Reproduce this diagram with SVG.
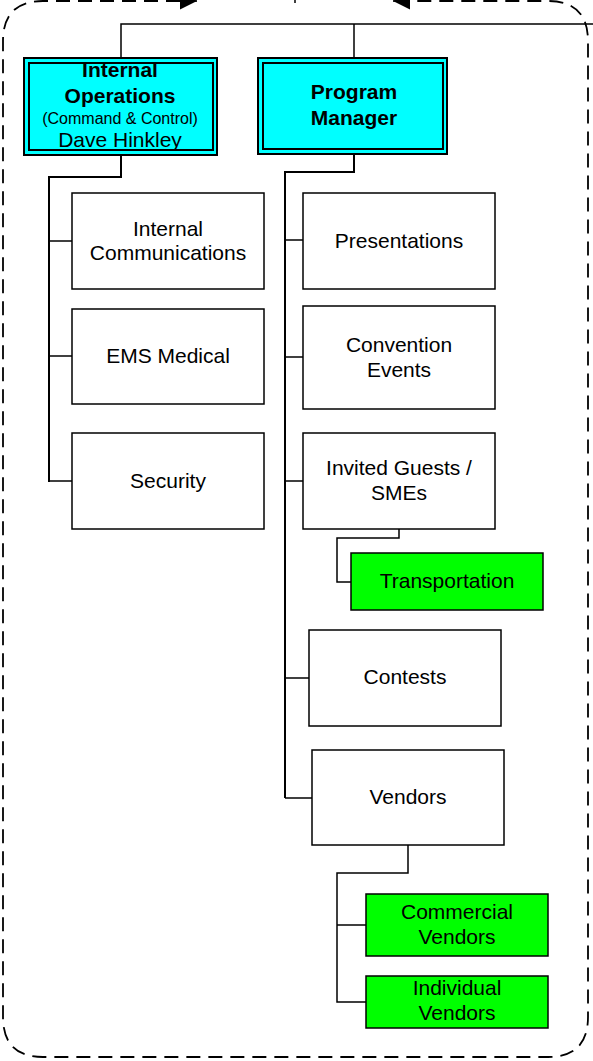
<svg xmlns="http://www.w3.org/2000/svg" width="593" height="1061" viewBox="0 0 593 1061">
<defs>
<style>
.box{fill:#fff;stroke:#000;stroke-width:1.5}
.grn{fill:#00ff00;stroke:#000;stroke-width:1.5}
.cyo{fill:#00ffff;stroke:#000;stroke-width:2}
.cyi{fill:none;stroke:#000;stroke-width:2}
.t{font-family:"Liberation Sans",Arial,sans-serif;font-size:21px;fill:#000;text-anchor:middle}
.b{font-weight:bold}
.ln{fill:none;stroke:#000;stroke-width:1.5}
.tr{fill:none;stroke:#000;stroke-width:2}
.dash{fill:none;stroke:#000;stroke-width:1.8;stroke-dasharray:14 8}
</style>
<marker id="ah" viewBox="0 0 10 10" refX="10" refY="5" markerWidth="17" markerHeight="18" markerUnits="userSpaceOnUse" orient="auto"><path d="M0,0 L10,5 L0,10 z" fill="#000"/></marker>
</defs>
<g id="boundary">
<path class="dash" d="M180,1 L43,1 Q3,1 3,41 L3,1017 Q3,1057 43,1057 L548,1057 Q588,1057 588,1017 L588,41 Q588,1 548,1 L410,1"/>
<line x1="170" y1="1" x2="197" y2="1" stroke="#000" stroke-width="1.6" marker-end="url(#ah)"/>
<line x1="403" y1="1" x2="393" y2="1" stroke="#000" stroke-width="1.6" marker-end="url(#ah)"/>
<line x1="295" y1="0" x2="295" y2="3" stroke="#000" stroke-width="1.5"/>
</g>
<g id="connectors">
<polyline class="ln" points="121,58 121,24 593,24"/>
<line class="ln" x1="354" y1="24" x2="354" y2="58"/>
<polyline class="tr" points="121,155 121,177 49,177 49,482"/>
<line class="ln" x1="49" y1="241" x2="72" y2="241"/>
<line class="ln" x1="49" y1="356" x2="72" y2="356"/>
<line class="ln" x1="49" y1="481" x2="72" y2="481"/>
<polyline class="tr" points="354,154 354,172 285,172 285,798"/>
<line class="ln" x1="285" y1="240" x2="303" y2="240"/>
<line class="ln" x1="285" y1="357" x2="303" y2="357"/>
<line class="ln" x1="285" y1="481" x2="303" y2="481"/>
<line class="ln" x1="285" y1="678" x2="309" y2="678"/>
<line class="ln" x1="285" y1="798" x2="312" y2="798"/>
<polyline class="ln" points="399,529 399,538 337,538 337,582 351,582"/>
<polyline class="ln" points="408,845 408,873 337,873 337,1002 366,1002"/>
<line class="ln" x1="337" y1="925" x2="366" y2="925"/>
</g>
<g id="internal-operations">
<rect class="cyo" x="24" y="58" width="193" height="97"/>
<rect class="cyi" x="29" y="63" width="184" height="87"/>
<text class="t b" x="120" y="77">Internal</text>
<text class="t b" x="120" y="103">Operations</text>
<text class="t" x="120" y="124" style="font-size:16px">(Command &amp; Control)</text>
<text class="t" x="120" y="147">Dave Hinkley</text>
</g>
<g id="program-manager">
<rect class="cyo" x="258" y="58" width="189" height="96"/>
<rect class="cyi" x="263" y="63" width="180" height="86"/>
<text class="t b" x="354" y="99">Program</text>
<text class="t b" x="354" y="125">Manager</text>
</g>
<g id="internal-communications">
<rect class="box" x="72" y="193" width="192" height="96"/>
<text class="t" x="168" y="236">Internal</text>
<text class="t" x="168" y="260">Communications</text>
</g>
<g id="ems-medical">
<rect class="box" x="72" y="309" width="192" height="95"/>
<text class="t" x="168" y="363">EMS Medical</text>
</g>
<g id="security">
<rect class="box" x="72" y="433" width="192" height="96"/>
<text class="t" x="168" y="488">Security</text>
</g>
<g id="presentations">
<rect class="box" x="303" y="193" width="192" height="96"/>
<text class="t" x="399" y="248">Presentations</text>
</g>
<g id="convention-events">
<rect class="box" x="303" y="306" width="192" height="103"/>
<text class="t" x="399" y="352">Convention</text>
<text class="t" x="399" y="377">Events</text>
</g>
<g id="invited-guests">
<rect class="box" x="303" y="433" width="192" height="96"/>
<text class="t" x="399" y="475">Invited Guests /</text>
<text class="t" x="399" y="500">SMEs</text>
</g>
<g id="transportation">
<rect class="grn" x="351" y="553" width="192" height="57"/>
<text class="t" x="447" y="588">Transportation</text>
</g>
<g id="contests">
<rect class="box" x="309" y="630" width="192" height="96"/>
<text class="t" x="405" y="684">Contests</text>
</g>
<g id="vendors">
<rect class="box" x="312" y="750" width="192" height="95"/>
<text class="t" x="408" y="804">Vendors</text>
</g>
<g id="commercial-vendors">
<rect class="grn" x="366" y="894" width="182" height="62"/>
<text class="t" x="457" y="919">Commercial</text>
<text class="t" x="457" y="944">Vendors</text>
</g>
<g id="individual-vendors">
<rect class="grn" x="366" y="976" width="182" height="52"/>
<text class="t" x="457" y="995">Individual</text>
<text class="t" x="457" y="1020">Vendors</text>
</g>
</svg>
